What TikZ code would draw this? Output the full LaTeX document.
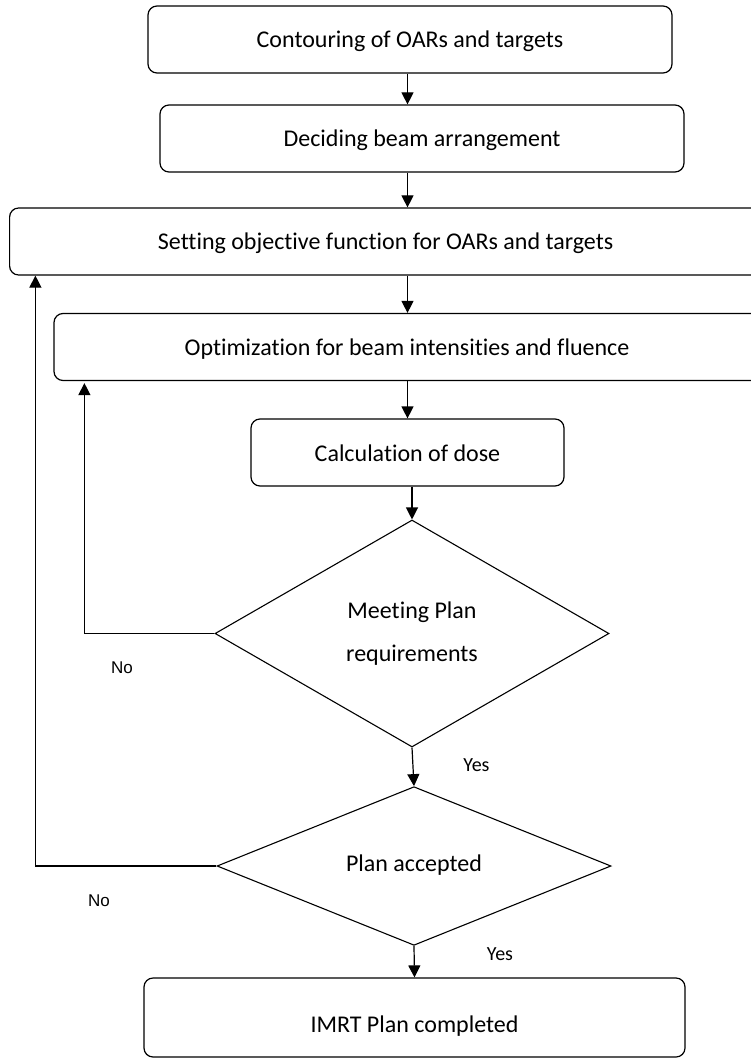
\documentclass[tikz,border=0pt]{standalone}
\usepackage{fontspec}
\setmainfont{Carlito}[Ligatures=NoCommon]
\newfontfamily\arialfont{Liberation Sans}
\usetikzlibrary{shapes.geometric,arrows.meta}
\begin{document}
\begin{tikzpicture}[x=1pt,y=-1pt,
  box/.style={draw, rounded corners=9pt, line width=1.2pt, inner sep=0pt,
    font=\fontsize{24}{29}\selectfont, minimum height=67pt,
    text height=17pt, text depth=0pt},
  dec/.style={draw, diamond, line width=1.1pt, inner sep=0pt,
    font=\fontsize{24}{43}\selectfont, align=center},
  arr/.style={-{Triangle[length=12pt,width=12pt]}, line width=1.2pt},
  ylab/.style={font=\fontsize{20}{24}\selectfont},
  nlab/.style={font=\arialfont\fontsize{17}{20}\selectfont}]
\useasboundingbox (0,0) rectangle (751,1059);
\clip (0,0) rectangle (751,1059);
\node[box, minimum width=524pt] (b1) at (410,39.5) {Contouring of OARs and targets};
\node[box, minimum width=524pt] (b2) at (422,138.5) {Deciding beam arrangement};
\node[box, minimum width=752pt] (b3) at (385.6,241.5) {Setting objective function for OARs and targets};
\node[box, minimum width=706pt] (b4) at (407,347) {Optimization for beam intensities and fluence};
\node[box, minimum width=313pt] (b5) at (407.5,452.5) {Calculation of dose};
\node[dec, minimum width=394pt, minimum height=227pt] (d1) at (412,633.5) {Meeting Plan\\requirements};
\node[dec, minimum width=394pt, minimum height=158pt] (d2) at (414,866) {\raisebox{6pt}{Plan accepted}};
\node[box, minimum width=541pt, minimum height=79pt] (b6) at (414.5,1017.5) {\raisebox{-6.5pt}{IMRT Plan completed}};
\draw[arr] (b1.south -| b5) -- (b2.north -| b5);
\draw[arr] (b2.south -| b5) -- (b3.north -| b5);
\draw[arr] (b3.south -| b5) -- (b4.north -| b5);
\draw[arr] (b4.south -| b5) -- (b5.north);
\draw[arr] (b5.south -| d1) -- (d1.north);
\draw[arr] (d1.south) -- (d2.north);
\draw[arr] (d2.south) -- (b6.north);
\draw[arr] (d1.west) -| ([xshift=31pt,yshift=-2pt]b4.south west);
\draw[arr] (d2.west) -| ([xshift=26.4pt]b3.south west);
\node[nlab] (no1) at (122,668) {No};
\node[nlab] (no2) at (99,901) {No};
\node[ylab] (y1) at (476.5,765) {Yes};
\node[ylab] (y2) at (500,954) {Yes};
\end{tikzpicture}
\end{document}
